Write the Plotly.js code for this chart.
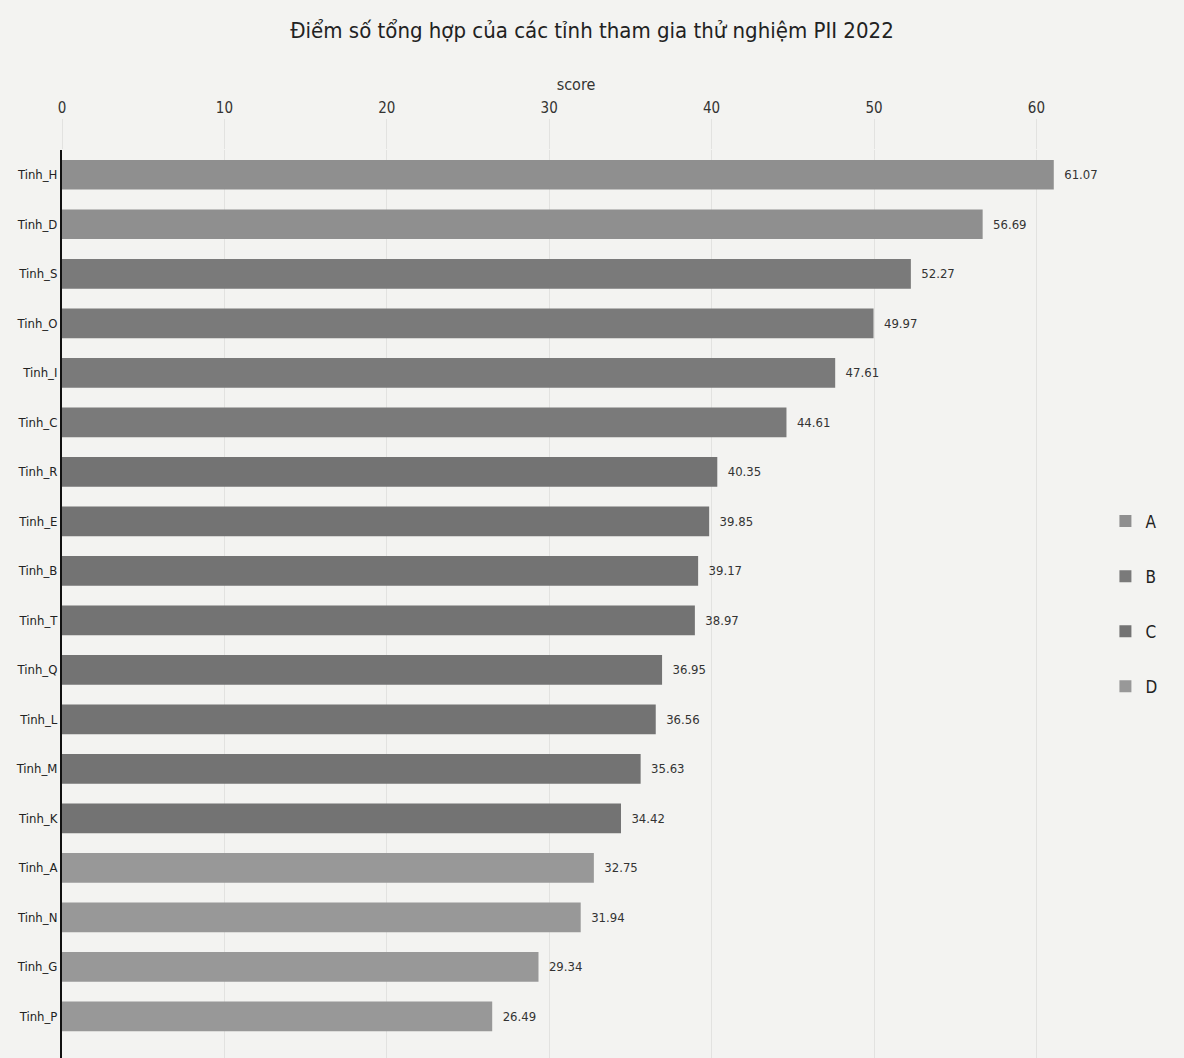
<!DOCTYPE html>
<html><head><meta charset="utf-8">
<script src="https://cdn.plot.ly/plotly-3.0.1.min.js"></script>
<style>body{margin:0;background:#f3f3f1}</style>
</head><body>
<div id="chart" style="width:1184px;height:1058px"></div>
<script>
const provinces = ["Tinh_H","Tinh_D","Tinh_S","Tinh_O","Tinh_I","Tinh_C","Tinh_R","Tinh_E","Tinh_B","Tinh_T","Tinh_Q","Tinh_L","Tinh_M","Tinh_K","Tinh_A","Tinh_N","Tinh_G","Tinh_P"];
const scores = [61.07,56.69,52.27,49.97,47.61,44.61,40.35,39.85,39.17,38.97,36.95,36.56,35.63,34.42,32.75,31.94,29.34,26.49];
const groups = ["A","A","B","B","B","B","C","C","C","C","C","C","C","C","D","D","D","D"];
const groupNames = ["A","B","C","D"];
const groupColors = {A:"#8f8f8f", B:"#7a7a7a", C:"#737373", D:"#989898"};
const FONT = "DejaVu Sans Condensed, Roboto, sans-serif";

const traces = groupNames.map(g => {
  const ys = [], xs = [];
  provinces.forEach((p,i) => { if (groups[i]===g){ ys.push(p); xs.push(scores[i]); } });
  return {
    type:"bar", orientation:"h", name:g, legendgroup:g,
    x:xs, y:ys, width:0.6,
    marker:{color:groupColors[g]},
    text:xs.map(v=>"\u00a0\u00a0"+v.toFixed(2)), textposition:"outside", cliponaxis:false,
    textfont:{family:FONT, size:13, color:"#333"},
    hoverinfo:"x+y"
  };
});

const layout = {
  width:1184, height:1058,
  paper_bgcolor:"#f3f3f1", plot_bgcolor:"#f3f3f1",
  margin:{l:62, r:94, t:150, b:0},
  title:{text:"Điểm số tổng hợp của các tỉnh tham gia thử nghiệm PII 2022", x:0.5, xanchor:"center", y:0.979, yanchor:"top",
    font:{family:FONT, size:22, weight:400, color:"#222"}},
  barmode:"relative",
  xaxis:{side:"top", range:[0,63.3], tickvals:[0,10,20,30,40,50,60], showgrid:true, gridcolor:"#e2e2e0", gridwidth:1,
    zeroline:false, ticks:"outside", ticklen:30, tickcolor:"#e2e2e0",
    tickfont:{family:FONT, size:15, color:"#333"},
    title:{text:"score", standoff:4, font:{family:FONT, size:16, color:"#333"}}},
  yaxis:{type:"category", categoryorder:"array", categoryarray:provinces, range:[17.84,-0.5],
    showline:true, linecolor:"#111", linewidth:2, showgrid:false, ticks:"", ticklen:0,
    tickfont:{family:FONT, size:13, color:"#222"}},
  legend:{x:1.015, xanchor:"left", y:0.5, yanchor:"middle", tracegroupgap:30,
    font:{family:FONT, size:17, color:"#222"}, bgcolor:"rgba(0,0,0,0)"},
  showlegend:true
};
Plotly.newPlot("chart", traces, layout, {displayModeBar:false});
</script>
</body></html>
